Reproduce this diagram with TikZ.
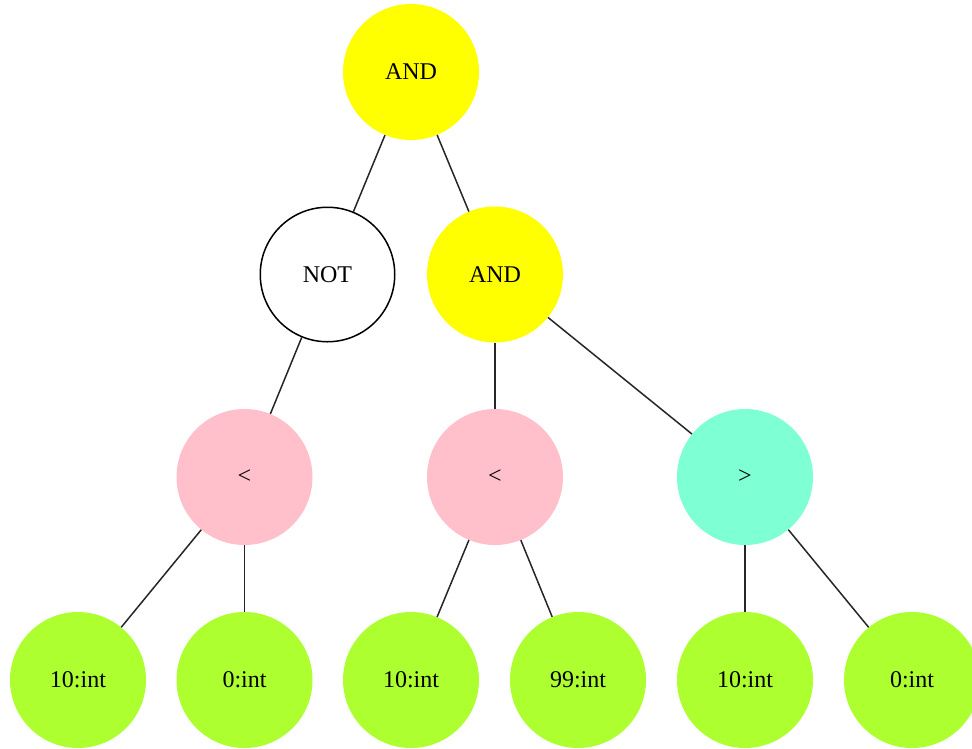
\documentclass[tikz,border=0pt]{standalone}
\usepackage{fontspec}
\setmainfont{Liberation Serif}
\definecolor{gvyellow}{HTML}{FFFF00}
\definecolor{gvpink}{HTML}{FFC0CB}
\definecolor{gvaqua}{HTML}{7FFFD4}
\definecolor{gvgreen}{HTML}{ADFF2F}
\tikzset{
  tnode/.style={circle, minimum size=136pt, inner sep=0pt, font=\fontsize{24}{28}\selectfont},
  yel/.style={tnode, fill=gvyellow},
  pnk/.style={tnode, fill=gvpink},
  aqu/.style={tnode, fill=gvaqua},
  grn/.style={tnode, fill=gvgreen},
  wht/.style={tnode, draw=black, line width=1.5pt, fill=white, minimum size=134.5pt},
  edge/.style={draw=black!85, line width=1.5pt}
}
\begin{document}
\begin{tikzpicture}[x=1pt, y=-1pt]
\useasboundingbox (0,0) rectangle (972,748);
\begin{scope}
\clip (0,0) rectangle (972,748);
\node[yel] (and1) at (411,72) {AND};
\node[wht] (not) at (327.5,274.5) {NOT};
\node[yel] (and2) at (495,274.5) {AND};
\node[pnk] (lt1) at (244.5,477) {<};
\node[pnk] (lt2) at (495,477) {<};
\node[aqu] (gt) at (745,477) {>};
\node[grn] (l1) at (78,680) {10:int};
\node[grn] (l2) at (244.5,680) {0:int};
\node[grn] (l3) at (411,680) {10:int};
\node[grn] (l4) at (578,680) {99:int};
\node[grn] (l5) at (745,680) {10:int};
\node[grn] (l6) at (912,680) {0:int};
\draw[edge] (and1) -- (not);
\draw[edge] (and1) -- (and2);
\draw[edge] (not) -- (lt1);
\draw[edge] (and2) -- (lt2);
\draw[edge] (and2) -- (gt);
\draw[edge] (lt1) -- (l1);
\draw[edge] (lt1) -- (l2);
\draw[edge] (lt2) -- (l3);
\draw[edge] (lt2) -- (l4);
\draw[edge] (gt) -- (l5);
\draw[edge] (gt) -- (l6);
\end{scope}
\end{tikzpicture}
\end{document}
